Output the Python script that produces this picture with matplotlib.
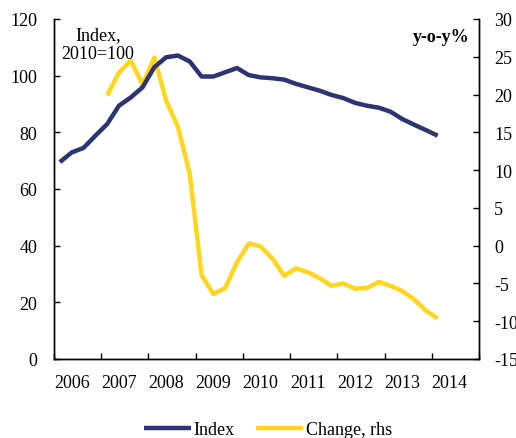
import matplotlib
matplotlib.use("Agg")
import matplotlib.pyplot as plt
import numpy as np

plt.rcParams['font.family'] = ['Liberation Serif', 'DejaVu Serif']
plt.rcParams['axes.unicode_minus'] = False

years = [2006, 2007, 2008, 2009, 2010, 2011, 2012, 2013, 2014]
# Quarterly index (2010=100), 2006Q1 .. 2014Q1
index_vals = [69.5, 72.9, 74.5, 78.8, 82.9, 89.4, 92.3, 95.9, 103.0, 106.5, 107.1,
              105.0, 99.7, 99.7, 101.2, 102.7, 100.2, 99.4, 99.1, 98.6, 97.1, 95.9,
              94.7, 93.2, 92.1, 90.4, 89.4, 88.7, 87.3, 84.7, 82.7, 80.8, 78.8]
# Year-on-year change (%), 2007Q1 .. 2014Q1
change_vals = [19.9, 22.9, 24.5, 21.3, 24.9, 19.2, 15.7, 9.5, -3.9, -6.4, -5.6, -2.2,
               0.3, -0.1, -1.7, -4.0, -3.0, -3.5, -4.3, -5.3, -5.0, -5.7, -5.6, -4.8,
               -5.3, -6.0, -7.1, -8.6, -9.6]

navy = '#2C3474'
yellow = '#FFD51E'
fs = 13

x_index = 2006 + (np.arange(len(index_vals)) + 0.5) / 4
x_change = 2007 + (np.arange(len(change_vals)) + 0.5) / 4

fig = plt.figure(figsize=(5.16, 4.39), dpi=100)
ax = fig.add_axes([54/516, 79/439, 425/516, 340/439])
ax2 = ax.twinx()

l1, = ax.plot(x_index, index_vals, color=navy, lw=3.2, solid_capstyle='butt', label='Index', zorder=3)
l2, = ax2.plot(x_change, change_vals, color=yellow, lw=3.2, solid_capstyle='butt', label='Change, rhs')

ax.set_xlim(2006, 2015)
ax.set_ylim(0, 120)
ax2.set_ylim(-15, 30)
ax.set_yticks(np.arange(0, 121, 20))
ax2.set_yticks(np.arange(-15, 31, 5))

ax.set_xticks(np.arange(2006, 2016))
ax.set_xticklabels([])
ax.set_xticks([y + 0.375 for y in years], minor=True)
ax.set_xticklabels([str(y) for y in years], minor=True)
ax.tick_params(axis='x', which='minor', length=0, pad=11, labelsize=fs)
ax.tick_params(axis='x', which='major', direction='in', length=4, width=1)
ax.tick_params(axis='y', direction='in', length=4, width=1, pad=12, labelsize=fs)
ax2.tick_params(axis='y', direction='in', length=4, width=1, pad=11, labelsize=fs)

for a in (ax, ax2):
    a.spines['top'].set_visible(False)
    for s in ('left', 'right', 'bottom'):
        a.spines[s].set_linewidth(1)
        a.spines[s].set_color('black')

ax.set_zorder(ax2.get_zorder() + 1)
ax.patch.set_visible(False)

fig.text(98/516, 1 - 45/439, 'Index,\n2010=100', ha='center', va='center', fontsize=fs, linespacing=1.1)
fig.text(441/516, 1 - 37/439, 'y-o-y%', ha='center', va='center', fontsize=fs, fontweight='bold')

fig.legend(handles=[l1, l2], loc='center', bbox_to_anchor=(268/516, 1 - 431/439), ncol=2,
           frameon=False, fontsize=fs, handlelength=2.6, handletextpad=0.15,
           columnspacing=1.2)

fig.savefig('out.png', dpi=100)
